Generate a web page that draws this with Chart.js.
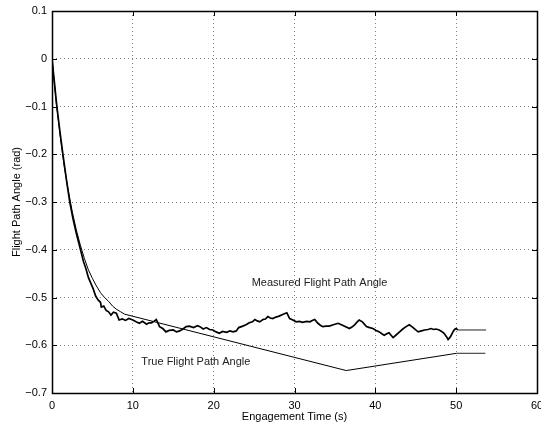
<!DOCTYPE html>
<html>
<head>
<meta charset="utf-8">
<script src="https://cdn.jsdelivr.net/npm/chart.js@4.4.0/dist/chart.umd.min.js"></script>
<style>
  html, body { margin: 0; padding: 0; background: #fff; }
  #wrap { width: 541px; height: 428px; }
</style>
</head>
<body>
<div id="wrap"><canvas id="chart1"></canvas></div>
<script>
// measured flight path angle (noisy track)
const measuredX = [0, 0.3, 0.6, 1.0, 1.35, 1.8, 2.2, 2.6, 3.0, 3.3, 3.6, 3.9, 4.2, 4.5, 4.8, 5.1, 5.4, 5.7, 6.0, 6.1,
  6.4, 6.7, 7.0, 7.3, 7.6, 7.96, 8.3, 8.7, 9.1, 9.5, 10.0, 10.4, 10.8, 11.2, 11.7, 12.0, 12.3, 12.6, 12.9, 13.1,
  13.3, 13.7, 14.1, 14.5, 15.0, 15.4, 15.8, 16.2, 16.6, 17.0, 17.5, 18.0, 18.3, 18.7, 19.1, 19.5, 19.9, 20.3, 20.7, 21.1,
  21.6, 22.0, 22.4, 22.8, 23.1, 23.6, 24.0, 24.4, 24.8, 25.1, 25.4, 25.7, 26.1, 26.4, 26.7, 27.0, 27.3, 27.7, 28.1, 28.6,
  29.05, 29.4, 29.8, 30.2, 30.6, 31.0, 31.5, 31.9, 32.2, 32.5, 32.9, 33.2, 33.5, 33.9, 34.3, 34.8, 35.4, 35.8, 36.2, 36.8,
  37.1, 37.4, 37.7, 38.0, 38.4, 38.9, 39.3, 39.7, 40.1, 40.5, 40.8, 41.1, 41.4, 41.7, 42.0, 42.2, 42.6, 43.0, 43.4, 43.8,
  44.2, 44.6, 45.0, 45.3, 45.7, 46.1, 46.5, 46.9, 47.2, 47.5, 47.9, 48.2, 48.5, 48.8, 49.0, 49.3, 49.6, 49.8, 50.0, 50.2];
const measuredY = [0, -0.05, -0.1, -0.155, -0.2, -0.255, -0.3, -0.335, -0.365, -0.385, -0.405, -0.425, -0.44, -0.458, -0.47, -0.482, -0.497, -0.505, -0.51, -0.52,
  -0.518, -0.527, -0.53, -0.537, -0.531, -0.533, -0.547, -0.545, -0.548, -0.544, -0.547, -0.551, -0.554, -0.55, -0.556, -0.553, -0.553, -0.55, -0.546, -0.553,
  -0.561, -0.565, -0.572, -0.569, -0.568, -0.572, -0.57, -0.566, -0.561, -0.56, -0.563, -0.559, -0.561, -0.566, -0.563, -0.567, -0.568, -0.572, -0.575, -0.571,
  -0.573, -0.57, -0.572, -0.57, -0.563, -0.56, -0.557, -0.553, -0.551, -0.546, -0.549, -0.551, -0.546, -0.545, -0.54, -0.543, -0.544, -0.541, -0.539, -0.535,
  -0.532, -0.544, -0.547, -0.551, -0.55, -0.552, -0.55, -0.551, -0.548, -0.546, -0.554, -0.558, -0.561, -0.56, -0.56, -0.557, -0.554, -0.557, -0.56, -0.565,
  -0.562, -0.558, -0.552, -0.547, -0.551, -0.561, -0.563, -0.565, -0.569, -0.572, -0.576, -0.579, -0.576, -0.574, -0.58, -0.584, -0.578, -0.572, -0.566, -0.561,
  -0.557, -0.562, -0.568, -0.572, -0.57, -0.568, -0.567, -0.565, -0.567, -0.566, -0.568, -0.571, -0.575, -0.582, -0.588, -0.582, -0.572, -0.567, -0.565, -0.568];
const measuredHoldX = [50.2, 53.7];
const measuredHoldY = [-0.568, -0.568];

// true flight path angle
const trueX = [0, 0.5, 1.0, 1.5, 2.0, 2.5, 3.0, 3.5, 4.0, 4.5, 5.0, 5.5, 6.0, 6.5, 7.0, 7.5, 8.0, 8.5, 9.0, 36.4, 50.0];
const trueY = [0, -0.088, -0.16, -0.224, -0.275, -0.32, -0.358, -0.39, -0.418, -0.442, -0.46, -0.476, -0.49, -0.5, -0.508, -0.518, -0.525, -0.53, -0.535, -0.653, -0.617];
const trueHoldX = [50.0, 53.6];
const trueHoldY = [-0.617, -0.617];

const xTicks = [0, 10, 20, 30, 40, 50, 60];
const yTicks = [0.1, 0, -0.1, -0.2, -0.3, -0.4, -0.5, -0.6, -0.7];

// text notes placed in data coordinates
const notes = [
  { text: 'Measured Flight Path Angle', x: 33.1, y: -0.469 },
  { text: 'True Flight Path Angle', x: 17.8, y: -0.635 }
];

const pts = (xs, ys) => xs.map((x, i) => ({ x: x, y: ys[i] }));
const fmtY = v => (Math.abs(v) < 1e-9 ? '0' : v.toFixed(1)).replace('-', '\u2212');
const fmtX = v => String(Math.round(v));
const FONT = "'Liberation Sans', Arial, sans-serif";

// frame, inward tick marks and the notes
const framePlugin = {
  id: 'frame',
  afterDatasetsDraw(chart) {
    const ctx = chart.ctx;
    const a = chart.chartArea;
    const xs = chart.scales.x, ys = chart.scales.y;
    ctx.save();
    ctx.strokeStyle = '#000';
    ctx.lineWidth = 1;
    ctx.beginPath();
    xTicks.forEach(t => {
      const px = Math.round(xs.getPixelForValue(t)) + 0.5;
      ctx.moveTo(px, a.bottom); ctx.lineTo(px, a.bottom - 5);
      ctx.moveTo(px, a.top); ctx.lineTo(px, a.top + 5);
    });
    yTicks.forEach(t => {
      const py = Math.round(ys.getPixelForValue(t)) + 0.5;
      ctx.moveTo(a.left, py); ctx.lineTo(a.left + 5, py);
      ctx.moveTo(a.right, py); ctx.lineTo(a.right - 5, py);
    });
    ctx.stroke();
    ctx.lineWidth = 1.5;
    ctx.strokeRect(Math.round(a.left) + 0.5, Math.round(a.top) + 0.5,
      Math.round(a.right - a.left), Math.round(a.bottom - a.top));
    ctx.fillStyle = '#222';
    ctx.font = '11px ' + FONT;
    ctx.textAlign = 'center';
    ctx.textBaseline = 'middle';
    notes.forEach(n => {
      ctx.fillText(n.text, xs.getPixelForValue(n.x), ys.getPixelForValue(n.y));
    });
    ctx.restore();
  }
};

const chart1El = document.getElementById('chart1');
new Chart(chart1El, {
  type: 'line',
  data: {
    datasets: [
      { label: 'Measured', data: pts(measuredX, measuredY), borderColor: '#000', borderWidth: 1.7 },
      { label: 'Measured hold', data: pts(measuredHoldX, measuredHoldY), borderColor: '#555', borderWidth: 1.3 },
      { label: 'True', data: pts(trueX, trueY), borderColor: '#000', borderWidth: 1 },
      { label: 'True hold', data: pts(trueHoldX, trueHoldY), borderColor: '#555', borderWidth: 1.3 }
    ]
  },
  options: {
    responsive: true,
    maintainAspectRatio: false,
    animation: false,
    events: [],
    elements: { point: { radius: 0 }, line: { tension: 0, fill: false } },
    layout: { padding: { top: 11, right: 4, left: 0, bottom: 0 } },
    plugins: { legend: { display: false }, tooltip: { enabled: false } },
    scales: {
      x: {
        type: 'linear',
        min: 0, max: 60,
        afterBuildTicks: s => { s.ticks = xTicks.map(v => ({ value: v })); },
        afterFit: s => { s.height = 35; s.paddingLeft = 0; s.paddingRight = 0; },
        ticks: { color: '#000', font: { family: FONT, size: 11 }, padding: 6, maxRotation: 0, callback: v => fmtX(v) },
        grid: { color: 'rgba(0,0,0,0.5)', borderDash: [1, 3], drawTicks: false },
        border: { display: false, dash: [1, 3] },
        title: { display: true, text: 'Engagement Time (s)', color: '#000', font: { family: FONT, size: 11 }, padding: { top: 0, bottom: 4 } }
      },
      y: {
        type: 'linear',
        min: -0.7, max: 0.1,
        afterBuildTicks: s => { s.ticks = yTicks.map(v => ({ value: v })); },
        afterFit: s => { s.width = 52; s.paddingTop = 0; s.paddingBottom = 0; },
        ticks: { color: '#000', font: { family: FONT, size: 11 }, padding: 5, callback: v => fmtY(v) },
        grid: { color: 'rgba(0,0,0,0.5)', borderDash: [1, 3], drawTicks: false },
        border: { display: false, dash: [1, 3] },
        title: { display: true, text: 'Flight Path Angle (rad)', color: '#000', font: { family: FONT, size: 11 }, padding: { top: 10, bottom: 0 } }
      }
    }
  },
  plugins: [framePlugin]
});
</script>
</body>
</html>
